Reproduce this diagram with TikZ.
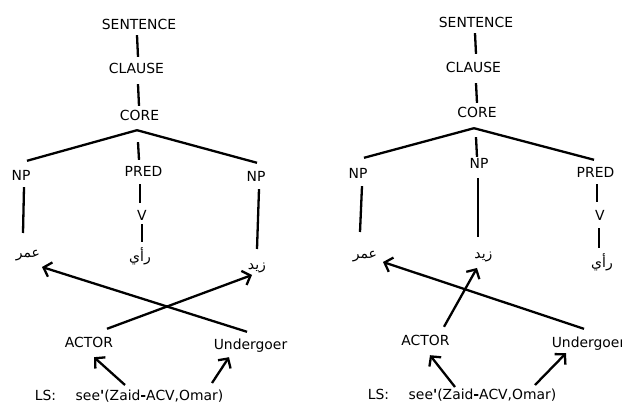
\documentclass[tikz,border=0pt]{standalone}
\usepackage{fontspec}
\setmainfont{DejaVu Sans}[Ligatures=TeXOff]
\newfontfamily\arabicfont[Script=Arabic]{DejaVu Sans}
\TeXXeTstate=1
\usetikzlibrary{arrows.meta}
\newcommand{\lsform}{see{\bfseries '}(Zaid{\bfseries -}ACV,Omar)}
\begin{document}
\begin{tikzpicture}[x=1pt,y=-1pt,
  lbl/.style={inner sep=0pt,text height=10pt,text depth=0pt,font=\fontsize{13.9}{16}\selectfont},
  ar/.style={inner sep=0pt,text height=10pt,text depth=0pt,font=\fontsize{14}{16}\selectfont\arabicfont},
  ln/.style={line width=2.3pt},
  arr/.style={line width=2.3pt,-{Straight Barb[length=7pt,width=15pt,line width=2.3pt]}}]
\useasboundingbox (0,0) rectangle (622,403);
% ---------- left tree ----------
\node[lbl] (S1) at (139,24.5) {SENTENCE};
\node[lbl] (C1) at (136.5,69) {CLAUSE};
\node[lbl] (K1) at (139.5,115.5) {CORE};
\node[lbl] (NPa) at (21,175.5) {NP};
\node[lbl] (PR1) at (143.5,171.5) {PRED};
\node[lbl] (NPb) at (256,176.5) {NP};
\node[lbl] (V1) at (142,216) {V};
\node[ar] (A1) at (140,257) {\beginR رأي\endR};
\node[ar] (Om1) at (28,253) {\beginR عمر\endR};
\node[ar] (Za1) at (257,265) {\beginR زيد\endR};
\node[lbl] (ACT1) at (89,342.5) {ACTOR};
\node[lbl] (UND1) at (250.5,345) {Undergoer};
\node[lbl] (LS1) at (45.5,396) {LS:};
\node[lbl] (SEE1) at (149.5,396) {\lsform};
\draw[ln] ([shift={(-2,5.5)}]S1.south) -- ([shift={(1.5,-7)}]C1.north);
\draw[ln] ([shift={(1.5,10)}]C1.south) -- ([shift={(-0.5,-4.5)}]K1.north);
\draw[ln] ([shift={(-2.5,9.5)}]K1.south) -- ([shift={(6,-9.5)}]NPa.north);
\draw[ln] ([shift={(-2.5,9.5)}]K1.south) -- ([shift={(1,-8.5)}]NPb.north);
\draw[ln] ([shift={(-1.5,21.5)}]K1.south) -- ([shift={(-4.5,-6.5)}]PR1.north);
\draw[ln] ([shift={(3,6.5)}]NPa.south) -- ([shift={(-5,-20)}]Om1.center);
\draw[ln] ([shift={(-3.5,7.5)}]PR1.south) -- ([shift={(-2,-8)}]V1.north);
\draw[ln] ([shift={(0,3)}]V1.south) -- ([shift={(2,-15)}]A1.center);
\draw[ln] ([shift={(3,7.5)}]NPb.south) -- ([shift={(0,-16)}]Za1.center);
\draw[arr] ([shift={(18,-8.5)}]ACT1.north) -- ([shift={(-5,10)}]Za1.center);
\draw[arr] ([shift={(-3.5,-8)}]UND1.north) -- ([shift={(14,14)}]Om1.center);
\draw[arr] ([shift={(-24.5,-11)}]SEE1.center) -- ([shift={(5,9.5)}]ACT1.south);
\draw[arr] ([shift={(62.5,-13)}]SEE1.center) -- ([shift={(-21.5,7)}]UND1.south);
% ---------- right tree ----------
\node[lbl] (S2) at (476,22.5) {SENTENCE};
\node[lbl] (C2) at (473.5,67.5) {CLAUSE};
\node[lbl] (K2) at (477,113) {CORE};
\node[lbl] (NPc) at (358,173.5) {NP};
\node[lbl] (NPd) at (479,164) {NP};
\node[lbl] (PR2) at (595.5,173) {PRED};
\node[lbl] (V2) at (600,215.5) {V};
\node[ar] (Om2) at (365,254) {\beginR عمر\endR};
\node[ar] (Za2) at (483.5,254) {\beginR زيد\endR};
\node[ar] (A2) at (602,263) {\beginR رأي\endR};
\node[lbl] (ACT2) at (425.5,340.5) {ACTOR};
\node[lbl] (UND2) at (588.5,342.5) {Undergoer};
\node[lbl] (LS2) at (378.5,395) {LS:};
\node[lbl] (SEE2) at (482.5,395) {\lsform};
\draw[ln] ([shift={(-1,5.5)}]S2.south) -- ([shift={(2.5,-8.5)}]C2.north);
\draw[ln] ([shift={(2.5,10.5)}]C2.south) -- ([shift={(0,-5)}]K2.north);
\draw[ln] ([shift={(-3,10)}]K2.south) -- ([shift={(6,-10.5)}]NPc.north);
\draw[ln] ([shift={(-3,10)}]K2.south) -- ([shift={(-1.5,-8)}]PR2.north);
\draw[ln] ([shift={(-1,19)}]K2.south) -- ([shift={(-2,-2)}]NPd.north);
\draw[ln] ([shift={(4,7.5)}]NPc.south) -- ([shift={(-5,-22)}]Om2.center);
\draw[ln] ([shift={(-1,9)}]NPd.south) -- ([shift={(-5.5,-17)}]Za2.center);
\draw[ln] ([shift={(1.5,6)}]PR2.south) -- ([shift={(-3,-8.5)}]V2.north);
\draw[ln] ([shift={(-1,7.5)}]V2.south) -- ([shift={(-3,-15)}]A2.center);
\draw[arr] ([shift={(18.5,-8.5)}]ACT2.north) -- ([shift={(-6.5,14)}]Za2.center);
\draw[arr] ([shift={(-4.5,-8.5)}]UND2.north) -- ([shift={(18,8)}]Om2.center);
\draw[arr] ([shift={(-27.5,-8)}]SEE2.center) -- ([shift={(4.5,9.5)}]ACT2.south);
\draw[arr] ([shift={(52.5,-10)}]SEE2.center) -- ([shift={(-22.5,5.5)}]UND2.south);
\end{tikzpicture}
\end{document}
